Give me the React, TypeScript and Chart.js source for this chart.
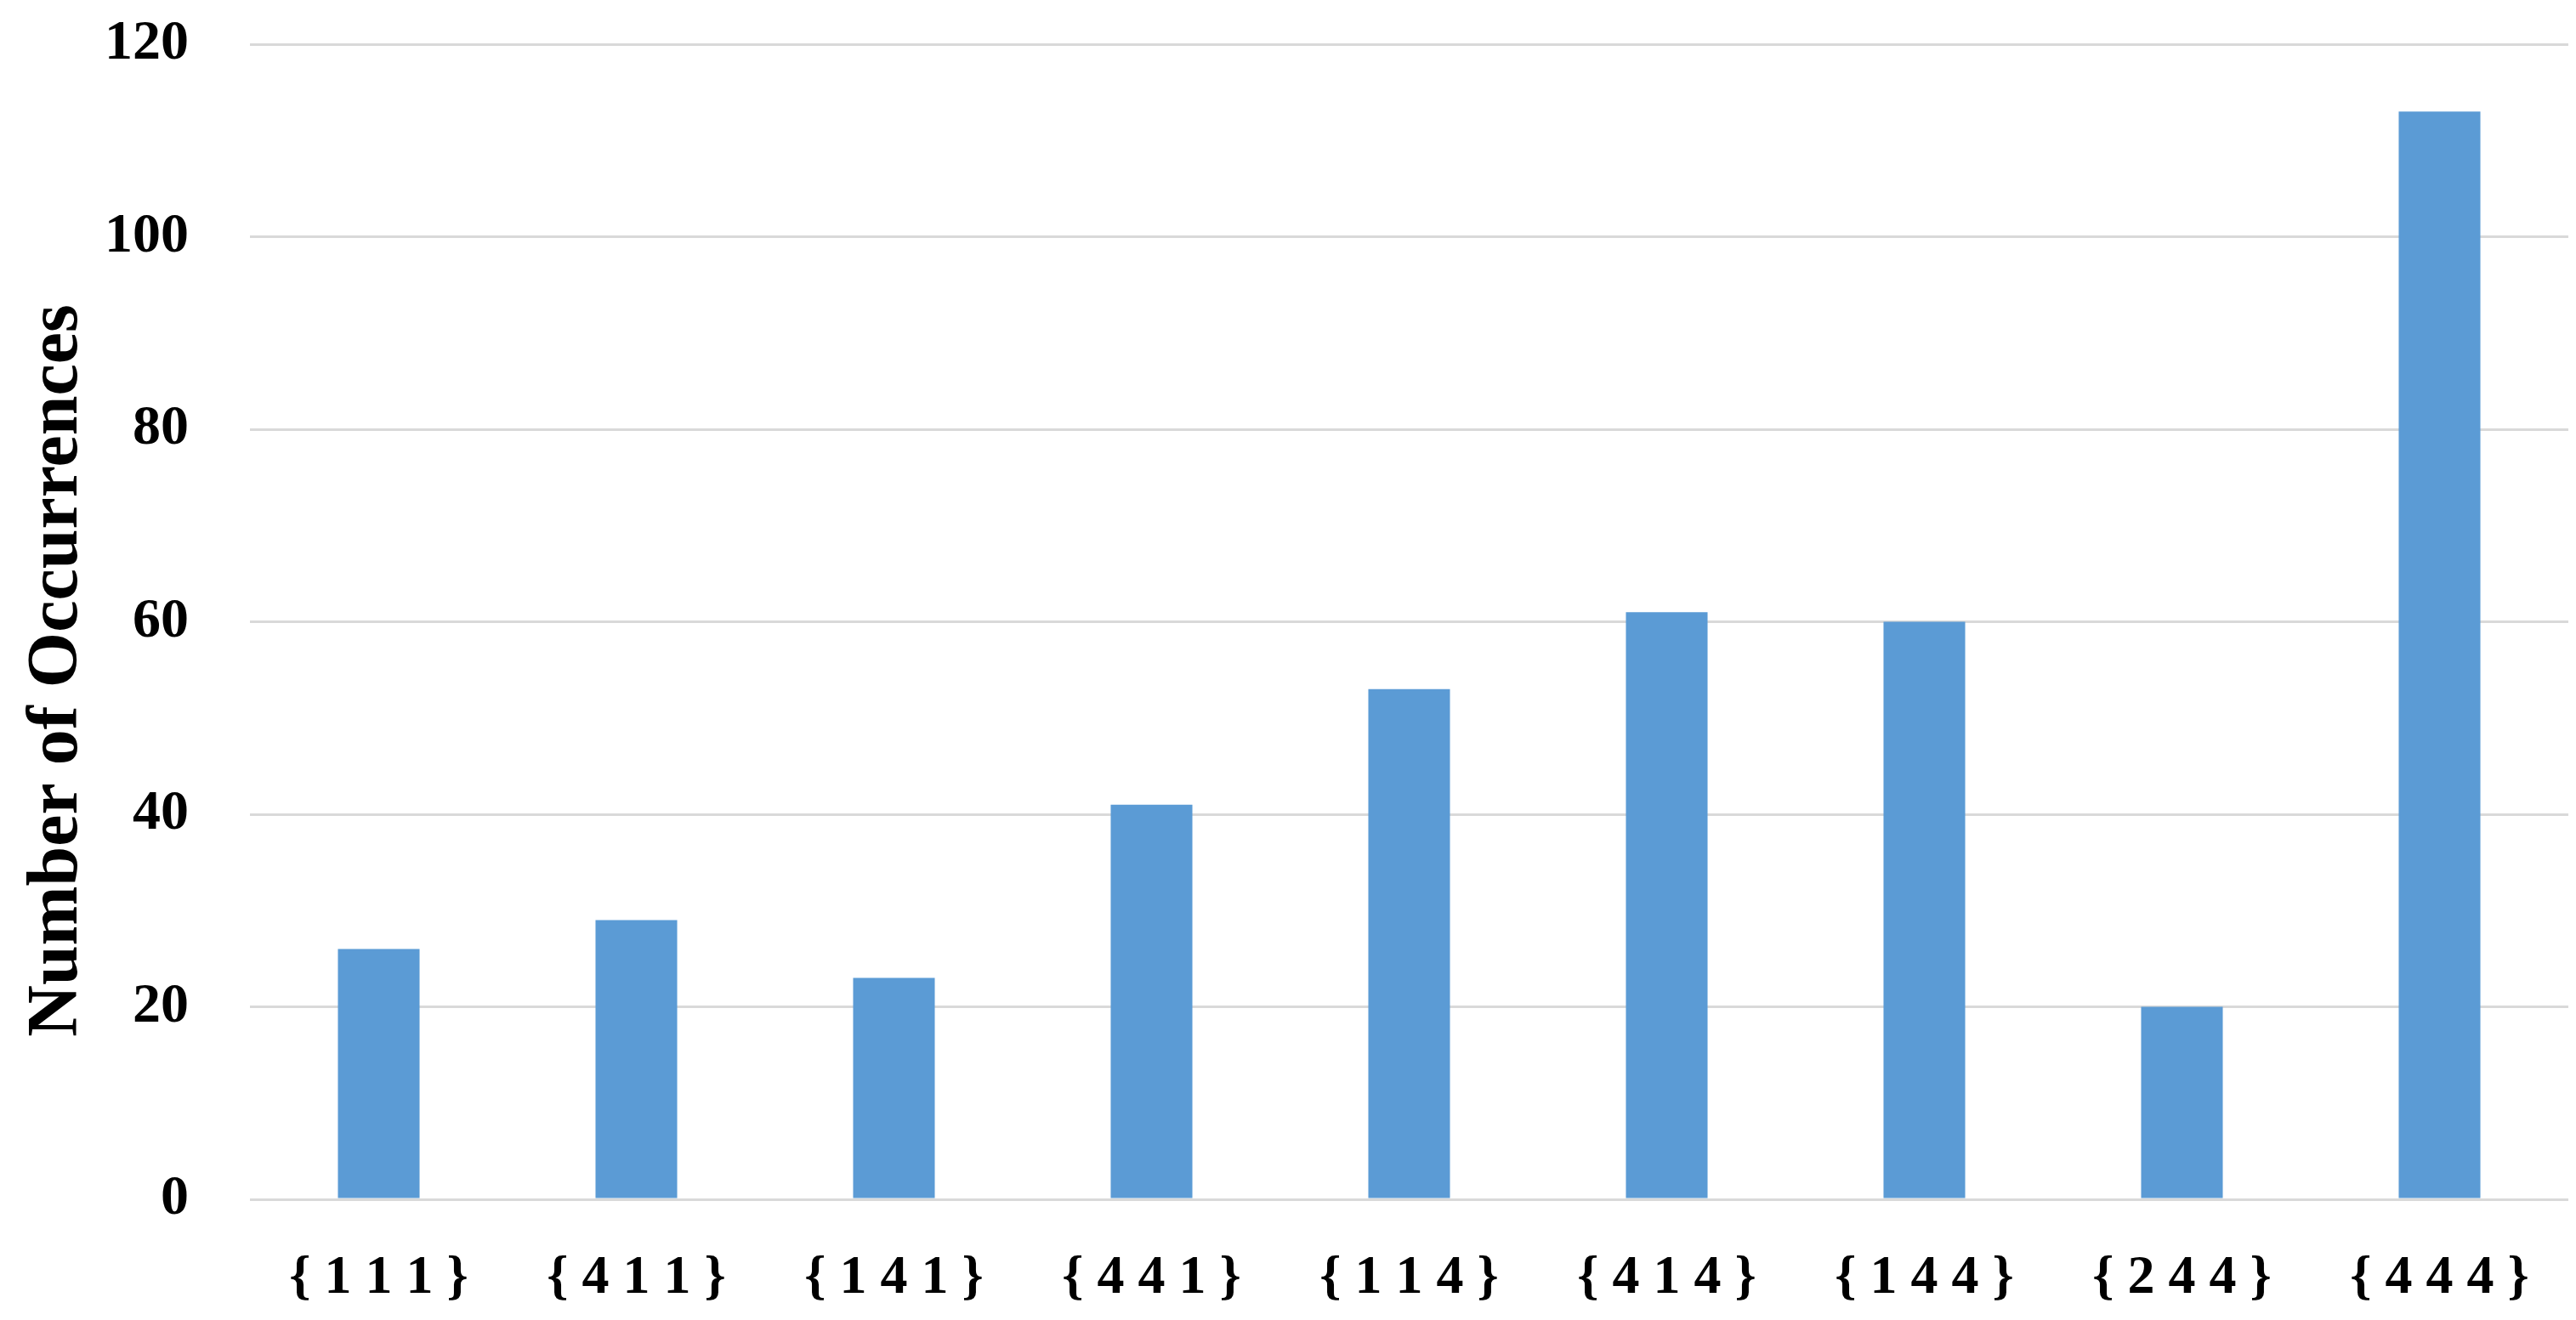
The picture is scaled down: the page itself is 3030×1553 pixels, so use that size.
import { useEffect, useRef } from 'react'
import { Chart, registerables } from 'chart.js'

Chart.register(...registerables)

const categories = ['{ 1 1 1 }', '{ 4 1 1 }', '{ 1 4 1 }', '{ 4 4 1 }', '{ 1 1 4 }', '{ 4 1 4 }', '{ 1 4 4 }', '{ 2 4 4 }', '{ 4 4 4 }']
const occurrences = [26, 29, 23, 41, 53, 61, 60, 20, 113]
const yTicks = [0, 20, 40, 60, 80, 100, 120]
const yTitle = 'Number of Occurrences'

const FONT = '"Liberation Serif", "Times New Roman", serif'

export default function App() {
  const canvasRef = useRef<HTMLCanvasElement>(null)
  const chartRef = useRef<Chart | null>(null)

  useEffect(() => {
    document.body.style.margin = '0'
    document.body.style.overflow = 'hidden'
    if (!canvasRef.current) return
    const ctx = canvasRef.current.getContext('2d')
    if (!ctx) return

    // y-axis title drawn by hand so it can sit a little lower than the plot centre
    const yTitlePlugin = {
      id: 'yTitle',
      afterDraw: (chart: Chart) => {
        const c = chart.ctx
        c.save()
        c.translate(90, 789)
        c.rotate(-Math.PI / 2)
        c.font = `bold 84px ${FONT}`
        c.fillStyle = '#000'
        c.textAlign = 'center'
        c.textBaseline = 'alphabetic'
        c.fillText(yTitle, 0, 0)
        c.restore()
      }
    }

    chartRef.current = new Chart(ctx, {
      type: 'bar',
      data: {
        labels: categories,
        datasets: [{
          label: yTitle,
          data: occurrences,
          backgroundColor: '#5B9BD5',
          borderWidth: 0,
          categoryPercentage: 1,
          barPercentage: 0.317
        }]
      },
      plugins: [yTitlePlugin],
      options: {
        responsive: false,
        devicePixelRatio: 1,
        animation: false,
        layout: { padding: { top: 52, right: 9, bottom: 0, left: 0 } },
        scales: {
          x: {
            // invisible tick marks push the labels down without widening the side padding
            grid: { display: false, drawTicks: true, tickLength: 55, tickColor: 'rgba(0,0,0,0)' },
            border: { display: false },
            ticks: {
              color: '#000',
              padding: 0,
              maxRotation: 0,
              autoSkip: false,
              font: { family: FONT, size: 64, weight: 'bold' }
            },
            afterFit: (scale) => { scale.height = 142 }
          },
          y: {
            min: 0,
            max: 120,
            afterBuildTicks: (scale) => { scale.ticks = yTicks.map((v) => ({ value: v })) },
            grid: { color: '#D9D9D9', lineWidth: 3, drawTicks: true, tickLength: 72, tickColor: 'rgba(0,0,0,0)' },
            border: { display: false },
            ticks: {
              color: '#000',
              padding: 0,
              font: { family: FONT, size: 66, weight: 'bold' }
            },
            afterFit: (scale) => { scale.width = 294 }
          }
        },
        plugins: {
          legend: { display: false },
          tooltip: { enabled: false }
        }
      }
    })

    return () => {
      if (chartRef.current) chartRef.current.destroy()
    }
  }, [])

  return (
    <div style={{ width: '3030px', height: '1553px', background: '#fff' }}>
      <canvas ref={canvasRef} width={3030} height={1553}></canvas>
    </div>
  )
}
